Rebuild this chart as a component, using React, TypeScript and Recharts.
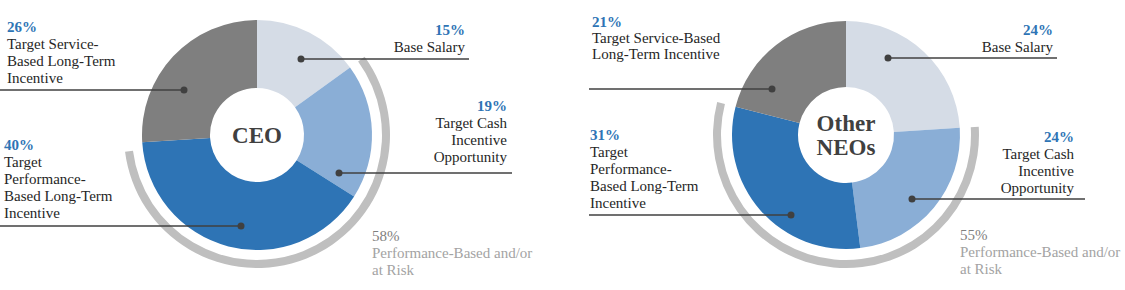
import { PieChart, Pie, Cell } from 'recharts'

const segments = [
  'Base Salary',
  'Target Cash Incentive Opportunity',
  'Target Performance-Based Long-Term Incentive',
  'Target Service-Based Long-Term Incentive',
]
const ceoValues = [15, 19, 40, 26]
const neoValues = [24, 24, 31, 21]
const ceoAtRisk = 58
const neoAtRisk = 55
const atRiskLines = ['Performance-Based and/or', 'at Risk']
const ceoTitle = ['CEO']
const neoTitle = ['Other', 'NEOs']

const ceoLabelLines = [
  ['Base Salary'],
  ['Target Cash', 'Incentive', 'Opportunity'],
  ['Target', 'Performance-', 'Based Long-Term', 'Incentive'],
  ['Target Service-', 'Based Long-Term', 'Incentive'],
]
const neoLabelLines = [
  ['Base Salary'],
  ['Target Cash', 'Incentive', 'Opportunity'],
  ['Target', 'Performance-', 'Based Long-Term', 'Incentive'],
  ['Target Service-Based', 'Long-Term Incentive'],
]

const colors = ['#d5dce6', '#8aaed6', '#2e74b5', '#7f7f7f']
const FONT = 'Liberation Serif'

// label placement, offsets from the pie centre
type Place = { dx: number; dy: number; lineX: number; textX: number; textY: number; anchor: 'start' | 'end'; gap: number }
const ceoPlaces: Place[] = [
  { dx: 44, dy: -76, lineX: 212, textX: 208, textY: -100, anchor: 'end', gap: 17 },
  { dx: 82, dy: 38, lineX: 255, textX: 250, textY: -24, anchor: 'end', gap: 17 },
  { dx: -16, dy: 91, lineX: -257, textX: -253, textY: 15, anchor: 'start', gap: 17 },
  { dx: -73, dy: -45, lineX: -257, textX: -250, textY: -103, anchor: 'start', gap: 17 },
]
const neoPlaces: Place[] = [
  { dx: 42, dy: -77, lineX: 211, textX: 207, textY: -100, anchor: 'end', gap: 17 },
  { dx: 66, dy: 64, lineX: 239, textX: 228, textY: 7, anchor: 'end', gap: 17 },
  { dx: -55, dy: 80, lineX: -257, textX: -256, textY: 5, anchor: 'start', gap: 17 },
  { dx: -74, dy: -46, lineX: -257, textX: -254, textY: -108, anchor: 'start', gap: 16 },
]

function makeLabel(values: number[], lines: string[][], places: Place[], title: string[]) {
  return (props: any) => {
    const { cx, cy, index } = props
    const p = places[index]
    const x0 = cx + p.dx
    const y0 = cy + p.dy
    const titleY = cy + 8 - ((title.length - 1) * 24) / 2
    return (
      <g key={'lbl' + index}>
        <line x1={x0} y1={y0} x2={cx + p.lineX} y2={y0} stroke="#404040" strokeWidth={1.6} />
        <circle cx={x0} cy={y0} r={3.5} fill="#404040" />
        <text x={cx + p.textX} y={cy + p.textY} textAnchor={p.anchor} fontFamily={FONT} style={{ fontFamily: FONT }} fontSize={15} fill="#2e74b5" fontWeight="bold">
          {values[index]}%
        </text>
        <text x={cx + p.textX} y={cy + p.textY} textAnchor={p.anchor} fontFamily={FONT} style={{ fontFamily: FONT }} fontSize={15} fill="#262626">
          {lines[index].map((l, i) => (
            <tspan key={i} x={cx + p.textX} dy={p.gap}>{l}</tspan>
          ))}
        </text>
        {index === 0 && (
          <text x={cx} y={titleY} textAnchor="middle" fontFamily={FONT} style={{ fontFamily: FONT }} fontSize={23} fontWeight="bold" fill="#404040">
            {title.map((l, i) => (
              <tspan key={i} x={cx} dy={i === 0 ? 0 : 24}>{l}</tspan>
            ))}
          </text>
        )}
      </g>
    )
  }
}

function makeRiskLabel(value: number, tx: number, ty: number) {
  return (props: any) => {
    const { cx, cy, index } = props
    if (index !== 1) return <g key={'r' + index} />
    return (
      <text key="risk" x={cx + tx} y={cy + ty} fontFamily={FONT} style={{ fontFamily: FONT }} fontSize={15} fill="#a3a3a3">
        <tspan x={cx + tx} dy={0} fill="#7f7f7f">{value}%</tspan>
        {atRiskLines.map((l, i) => (
          <tspan key={i} x={cx + tx} dy={17}>{l}</tspan>
        ))}
      </text>
    )
  }
}

const ceoData = segments.map((name, i) => ({ name, value: ceoValues[i] }))
const neoData = segments.map((name, i) => ({ name, value: neoValues[i] }))
const ceoArc = [
  { name: 'lead', value: ceoValues[0] },
  { name: 'risk', value: ceoAtRisk },
  { name: 'rest', value: 100 - ceoValues[0] - ceoAtRisk },
]
const neoArc = [
  { name: 'lead', value: neoValues[0] },
  { name: 'risk', value: neoAtRisk },
  { name: 'rest', value: 100 - neoValues[0] - neoAtRisk },
]

export default function App() {
  return (
    <div style={{ position: 'absolute', left: 0, top: 0, width: 1125, height: 290, background: '#fff', fontFamily: FONT }}>
      <PieChart width={1125} height={290} margin={{ top: 0, right: 0, bottom: 0, left: 0 }}>
        <Pie data={ceoArc} dataKey="value" cx={257} cy={135} innerRadius={125} outerRadius={133} startAngle={90} endAngle={-270} stroke="none" isAnimationActive={false} label={makeRiskLabel(ceoAtRisk, 115, 106)} labelLine={false}>
          {ceoArc.map((d, i) => <Cell key={i} fill={i === 1 ? '#bfbfbf' : 'transparent'} />)}
        </Pie>
        <Pie data={ceoData} dataKey="value" cx={257} cy={135} innerRadius={47} outerRadius={115} startAngle={90} endAngle={-270} stroke="none" isAnimationActive={false} label={makeLabel(ceoValues, ceoLabelLines, ceoPlaces, ceoTitle)} labelLine={false}>
          {ceoData.map((d, i) => <Cell key={i} fill={colors[i]} />)}
        </Pie>
        <Pie data={neoArc} dataKey="value" cx={846} cy={135} innerRadius={125} outerRadius={133} startAngle={90} endAngle={-270} stroke="none" isAnimationActive={false} label={makeRiskLabel(neoAtRisk, 114, 105)} labelLine={false}>
          {neoArc.map((d, i) => <Cell key={i} fill={i === 1 ? '#bfbfbf' : 'transparent'} />)}
        </Pie>
        <Pie data={neoData} dataKey="value" cx={846} cy={135} innerRadius={48} outerRadius={114} startAngle={90} endAngle={-270} stroke="none" isAnimationActive={false} label={makeLabel(neoValues, neoLabelLines, neoPlaces, neoTitle)} labelLine={false}>
          {neoData.map((d, i) => <Cell key={i} fill={colors[i]} />)}
        </Pie>
      </PieChart>
    </div>
  )
}
